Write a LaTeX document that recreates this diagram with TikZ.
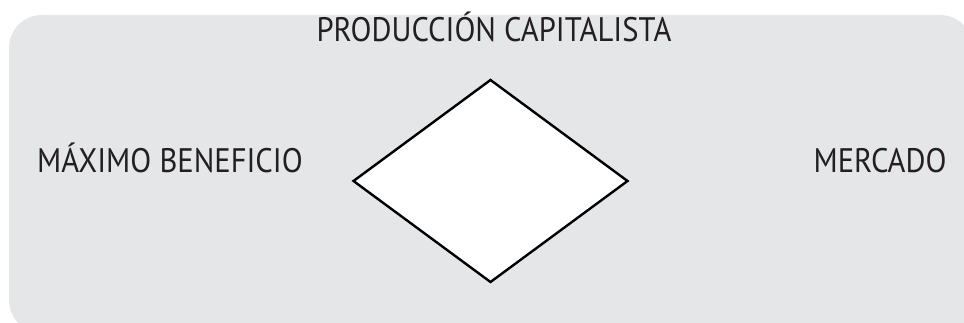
\documentclass[tikz,border=0pt]{standalone}
\usepackage{fontspec}
\setmainfont[FakeStretch=0.9]{PT Sans}
\usepackage{tikz}
\usetikzlibrary{shapes.geometric,positioning}
\definecolor{panelgray}{RGB}{229,230,232}
\definecolor{textgray}{RGB}{35,31,32}

\begin{document}
\begin{tikzpicture}[
  x=1pt, y=1pt,
  every node/.style={font=\fontsize{34}{36}\selectfont, text=textgray},
  panel/.style={fill=panelgray, rounded corners=33pt},
  rombo/.style={diamond, draw=black, fill=white, line width=2.4pt, inner sep=0pt, minimum width=275pt, minimum height=203pt},
  concepto/.style={anchor=base, inner sep=0pt}
]
\useasboundingbox (0,0) rectangle (964,323);
\begin{scope}
  \clip (0,0) rectangle (964,323);
  \fill[panel] (9,-10) rectangle (973,308);
\end{scope}
\node[rombo] (rombo) at (490.5,142) {};
\node[concepto] (produccion) at (494,281) {PRODUCCIÓN CAPITALISTA};
\node[concepto] (beneficio) at (170,150) {MÁXIMO BENEFICIO};
\node[concepto] (mercado) at (880,150) {MERCADO};
\end{tikzpicture}
\end{document}
